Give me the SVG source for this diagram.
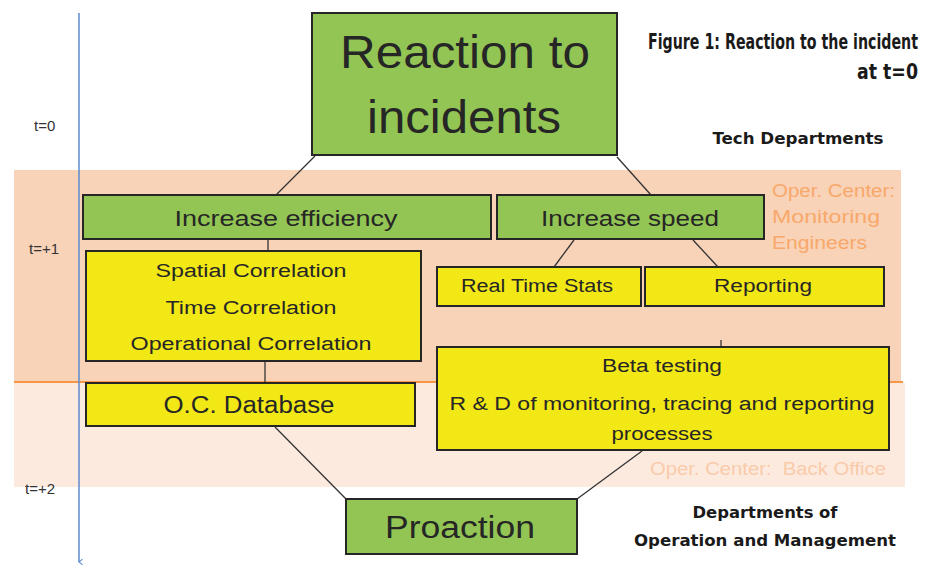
<svg xmlns="http://www.w3.org/2000/svg" width="928" height="565" viewBox="0 0 928 565">
<defs>
<style>
.g{fill:#92c553;stroke:#262626;stroke-width:2}
.y{fill:#f2e816;stroke:#262626;stroke-width:2}
.t{font-family:"Liberation Sans",Arial,sans-serif;fill:#262626;text-anchor:middle}
.c{stroke:#333;stroke-width:1.3;fill:none}
.o{font-family:"Liberation Sans",Arial,sans-serif;font-size:18px;fill:#f7a86a}
.o2{font-family:"Liberation Sans",Arial,sans-serif;font-size:18px;fill:#f9cbaa}
.b{font-family:"DejaVu Sans Condensed","Liberation Sans",sans-serif;font-weight:bold;fill:#1a1a1a}
.tl{font-family:"Liberation Sans",Arial,sans-serif;font-size:15px;fill:#333}
</style>
<marker id="ah" viewBox="0 0 10 10" refX="5" refY="9" markerWidth="7" markerHeight="7" orient="auto-start-reverse" markerUnits="userSpaceOnUse">
<path d="M1,4 L5,9 L9,4" fill="none" stroke="#5b8bd0" stroke-width="1.5"/>
</marker>
</defs>
<g id="bands">
<rect x="14" y="170" width="887" height="213" fill="#f9d3b8"/>
<rect x="14" y="383" width="891" height="104" fill="#fdeadf"/>
<line x1="14" y1="382" x2="903" y2="382" stroke="#f79646" stroke-width="2"/>
</g>
<g id="timeline">
<line x1="79" y1="13" x2="79" y2="562" stroke="#5b8bd0" stroke-width="1.5" marker-end="url(#ah)"/>
<text class="tl" x="34" y="131">t=0</text>
<text class="tl" x="29" y="254">t=+1</text>
<text class="tl" x="25" y="494">t=+2</text>
</g>
<g id="connectors">
<line class="c" x1="315" y1="156" x2="276" y2="195"/>
<line class="c" x1="617" y1="157" x2="651" y2="195"/>
<line class="c" x1="268" y1="239" x2="268" y2="251"/>
<line class="c" x1="265" y1="361" x2="265" y2="383"/>
<line class="c" x1="574" y1="240" x2="554" y2="267"/>
<line class="c" x1="693" y1="240" x2="718" y2="267"/>
<line class="c" x1="721" y1="340" x2="721" y2="347"/>
<line class="c" x1="275" y1="427" x2="346" y2="499"/>
<line class="c" x1="642" y1="451" x2="577" y2="499"/>
</g>
<g id="reaction">
<rect class="g" x="312" y="13" width="305" height="142"/>
<text class="t" x="465" y="68" font-size="46" textLength="250" lengthAdjust="spacingAndGlyphs">Reaction to</text>
<text class="t" x="464" y="133" font-size="46" textLength="194" lengthAdjust="spacingAndGlyphs">incidents</text>
</g>
<g id="efficiency">
<rect class="g" x="83" y="195" width="408" height="44"/>
<text class="t" x="286" y="226" font-size="22" textLength="223" lengthAdjust="spacingAndGlyphs">Increase efficiency</text>
</g>
<g id="speed">
<rect class="g" x="497" y="195" width="267" height="44"/>
<text class="t" x="630" y="226" font-size="22" textLength="178" lengthAdjust="spacingAndGlyphs">Increase speed</text>
</g>
<g id="correlation">
<rect class="y" x="86" y="251" width="335" height="110"/>
<text class="t" x="251" y="277" font-size="18" textLength="191" lengthAdjust="spacingAndGlyphs">Spatial Correlation</text>
<text class="t" x="251" y="314" font-size="18" textLength="171" lengthAdjust="spacingAndGlyphs">Time Correlation</text>
<text class="t" x="251" y="350" font-size="18" textLength="241" lengthAdjust="spacingAndGlyphs">Operational Correlation</text>
</g>
<g id="database">
<rect class="y" x="86" y="383" width="329" height="43"/>
<text class="t" x="249" y="413" font-size="23" textLength="171" lengthAdjust="spacingAndGlyphs">O.C. Database</text>
</g>
<g id="realtime">
<rect class="y" x="437" y="267" width="204" height="39"/>
<text class="t" x="537" y="292" font-size="18" textLength="152" lengthAdjust="spacingAndGlyphs">Real Time Stats</text>
</g>
<g id="reporting">
<rect class="y" x="645" y="267" width="239" height="39"/>
<text class="t" x="763" y="292" font-size="18" textLength="98" lengthAdjust="spacingAndGlyphs">Reporting</text>
</g>
<g id="beta">
<rect class="y" x="437" y="347" width="452" height="103"/>
<text class="t" x="662" y="372" font-size="18" textLength="120" lengthAdjust="spacingAndGlyphs">Beta testing</text>
<text class="t" x="662" y="410" font-size="18" textLength="425" lengthAdjust="spacingAndGlyphs">R &amp; D of monitoring, tracing and reporting</text>
<text class="t" x="662" y="440" font-size="18" textLength="101" lengthAdjust="spacingAndGlyphs">processes</text>
</g>
<g id="proaction">
<rect class="g" x="346" y="499" width="231" height="55"/>
<text class="t" x="460" y="538" font-size="31" textLength="150" lengthAdjust="spacingAndGlyphs">Proaction</text>
</g>
<g id="labels">
<text class="b" transform="translate(918,49) scale(1,1.45)" x="0" y="0" font-size="14.5" text-anchor="end" textLength="270" lengthAdjust="spacingAndGlyphs">Figure 1: Reaction to the incident</text>
<text class="b" transform="translate(918,79) scale(1,1.45)" x="0" y="0" font-size="14.5" text-anchor="end" textLength="61" lengthAdjust="spacingAndGlyphs">at t=0</text>
<text class="b" x="798" y="144" font-size="16" text-anchor="middle" textLength="171" lengthAdjust="spacingAndGlyphs">Tech Departments</text>
<text class="b" x="765" y="518" font-size="16" text-anchor="middle" textLength="145" lengthAdjust="spacingAndGlyphs">Departments of</text>
<text class="b" x="765" y="546" font-size="16" text-anchor="middle" textLength="262" lengthAdjust="spacingAndGlyphs">Operation and Management</text>
<text class="o" x="772" y="197" textLength="123" lengthAdjust="spacingAndGlyphs">Oper. Center:</text>
<text class="o" x="772" y="223" textLength="108" lengthAdjust="spacingAndGlyphs">Monitoring</text>
<text class="o" x="772" y="249" textLength="95" lengthAdjust="spacingAndGlyphs">Engineers</text>
<text class="o2" x="650" y="475" xml:space="preserve" textLength="236" lengthAdjust="spacingAndGlyphs">Oper. Center:  Back Office</text>
</g>
</svg>
